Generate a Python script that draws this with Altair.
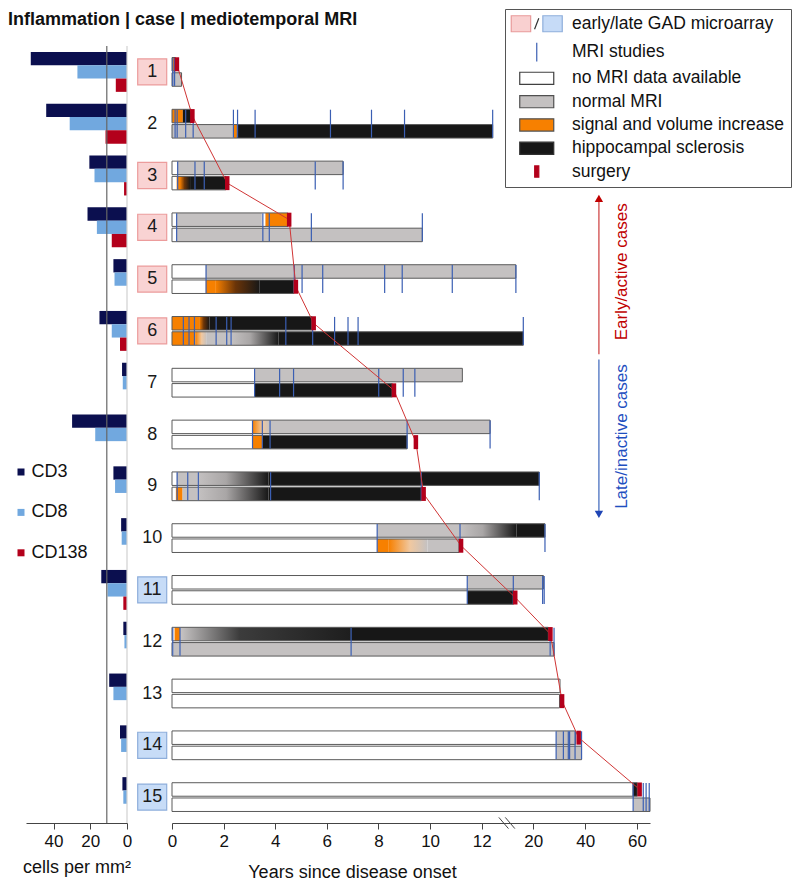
import altair as alt
import pandas as pd

# ---------------- data ----------------
case_labels = [str(i) for i in range(1, 16)]

# inflammation (cells per mm²)
cd3 = [52.4, 44.0, 20.5, 21.5, 7.4, 15.0, 2.7, 29.9, 7.4, 3.2, 14.0, 2.0, 9.7, 3.8, 2.5]
cd8 = [27.0, 31.2, 17.7, 16.4, 6.8, 8.3, 2.3, 17.3, 6.5, 2.9, 10.6, 1.4, 7.4, 3.2, 2.0]
cd138 = [6.1, 11.7, 1.6, 8.3, 0, 3.8, 0, 0, 0, 0, 2.0, 0, 0, 0, 0]
marker_names = ["CD3", "CD8", "CD138"]
reference_level = 11

early_gad = ["1", "3", "4", "5", "6"]
late_gad = ["11", "14", "15"]

# MRI course per case, upper (U) and lower (L) lane
seg_case = (["1"] * 2 + ["2"] * 5 + ["3"] * 6 + ["4"] * 6 + ["5"] * 6 + ["6"] * 8 + ["7"] * 4
            + ["8"] * 6 + ["9"] * 9 + ["10"] * 8 + ["11"] * 4 + ["12"] * 6 + ["13"] * 2
            + ["14"] * 4 + ["15"] * 4)
seg_lane = ["U", "L",
            "U", "U", "L", "L", "L",
            "U", "U", "L", "L", "L", "L",
            "U", "U", "U", "U", "L", "L",
            "U", "U", "L", "L", "L", "L",
            "U", "U", "U", "L", "L", "L", "L", "L",
            "U", "U", "L", "L",
            "U", "U", "U", "L", "L", "L",
            "U", "U", "U", "U", "L", "L", "L", "L", "L",
            "U", "U", "U", "U", "L", "L", "L", "L",
            "U", "U", "L", "L",
            "U", "U", "U", "U", "L", "L",
            "U", "L",
            "U", "U", "L", "L",
            "U", "U", "L", "L"]
seg_start = [0, 0,
             0, 0.42, 0, 2.39, 2.51,
             0, 0.2, 0, 0.18, 0.31, 0.7,
             0, 0.17, 3.48, 3.62, 0, 0.17,
             0, 1.31, 0, 1.31, 1.7, 3.4,
             0, 1.05, 1.45, 0, 0.9, 1.35, 2.3, 4.13,
             0, 3.2, 0, 3.2,
             0, 3.12, 3.8, 0, 3.12, 3.5,
             0, 0.18, 1.0, 3.74, 0, 0.15, 0.4, 1.0, 3.74,
             0, 7.95, 11.16, 17.4, 0, 7.95, 8.4, 9.9,
             0, 11.44, 0, 11.44,
             0, 0.1, 0.31, 6.9, 0, 0.05,
             0, 0,
             0, 28.8, 0, 28.8,
             0, 58.3, 0, 58.6]
seg_end = [0.13, 0.37,
           0.42, 0.74, 2.39, 2.51, 13.7,
           0.2, 6.63, 0.18, 0.31, 0.7, 2.08,
           0.17, 3.48, 3.62, 4.48, 0.17, 9.7,
           1.31, 17.3, 1.31, 1.7, 3.4, 4.72,
           1.05, 1.45, 5.42, 0.9, 1.35, 2.3, 4.13, 18.45,
           3.2, 11.25, 3.2, 8.53,
           3.12, 3.8, 13.3, 3.12, 3.5, 9.11,
           0.18, 1.0, 3.74, 22.3, 0.15, 0.4, 1.0, 3.74, 9.66,
           7.95, 11.16, 17.4, 24.5, 7.95, 8.4, 9.9, 11.12,
           11.44, 23.9, 11.44, 16.9,
           0.1, 0.31, 6.9, 25.8, 0.05, 28.0,
           30.3, 30.1,
           28.8, 36.3, 28.8, 38.6,
           58.3, 60.1, 58.6, 65]
seg_state = ["signal", "normal",
             "signal", "hs", "normal", "signal", "hs",
             "none", "normal", "none", "signal", "sig2hs", "hs",
             "none", "normal", "none", "signal", "none", "normal",
             "none", "normal", "none", "signal", "sig2hs", "hs",
             "signal", "sig2hs", "hs", "signal", "sig2norm", "normal", "norm2hs", "hs",
             "none", "normal", "none", "hs",
             "none", "sig2norm", "normal", "none", "signal", "hs",
             "none", "normal", "norm2hs", "hs", "none", "signal", "normal", "norm2hs", "hs",
             "none", "normal", "norm2hs", "hs", "none", "signal", "sig2norm", "normal",
             "none", "normal", "none", "hs",
             "none", "signal", "norm2hs_fast", "hs", "none", "normal",
             "none", "none",
             "none", "normal", "none", "normal",
             "none", "hs", "none", "normal"]

# MRI studies (years since onset)
mri_case = (["1"] * 2 + ["2"] * 11 + ["3"] * 5 + ["4"] * 5 + ["5"] * 8 + ["6"] * 12 + ["7"] * 6
            + ["8"] * 5 + ["9"] * 6 + ["10"] * 3 + ["11"] * 4 + ["12"] * 5 + ["14"] * 6 + ["15"] * 4)
mri_year = [0.03, 0.1,
            0.12, 0.2, 0.53, 0.82, 2.38, 2.54, 3.22, 6.14, 7.73, 9.01, 13.7,
            0.22, 0.89, 1.25, 5.55, 6.63,
            0.18, 3.52, 3.77, 5.4, 9.7,
            1.32, 4.74, 5.04, 5.84, 8.24, 8.92, 10.86, 17.3,
            0.44, 0.66, 0.87, 1.71, 2.12, 2.29, 4.41, 5.45, 6.3, 6.82, 7.21, 18.45,
            3.2, 4.17, 4.71, 8.01, 8.96, 9.41,
            3.12, 3.5, 3.8, 9.11, 13.3,
            0.2, 0.61, 1.02, 3.82, 9.66, 22.3,
            7.95, 11.16, 24.5,
            11.44, 16.9, 23.6, 24.2,
            0.03, 0.31, 6.94, 26.5, 28.0,
            28.8, 31.6, 33.5, 34.0, 36.1, 38.6,
            58.5, 62.4, 63.5, 64.7]

# surgery
surg_lane = ["U", "U", "L", "U", "L", "U", "L", "L", "L", "L", "L", "U", "L", "U", "U"]
surg_year = [0.19, 0.79, 2.14, 4.54, 4.8, 5.49, 8.6, 9.45, 9.75, 11.2, 17.2, 26.6, 31.1, 37.5, 61.0]

legend_items = ["early/late GAD microarray", "MRI studies", "no MRI data available",
                "normal MRI", "signal and volume increase", "hippocampal sclerosis", "surgery"]

# ---------------- styles ----------------
FONT = "Liberation Sans"
ORANGE = "#f78000"
GRAY = "#c4c1c1"
BLACK = "#171717"
RED = "#b3001b"
MRI_BLUE = "#3b5fb3"


def lg(stops):
    return alt.LinearGradient(gradient="linear", x1=0, y1=0, x2=1, y2=0,
                              stops=[alt.GradientStop(offset=o, color=c) for o, c in stops])


state_fill = {
    "none": "#ffffff",
    "normal": GRAY,
    "signal": ORANGE,
    "hs": BLACK,
    "sig2hs": lg([(0, ORANGE), (0.45, "#6a3408"), (1, BLACK)]),
    "sig2norm": lg([(0, ORANGE), (0.55, "#f0c8a0"), (1, GRAY)]),
    "norm2hs": lg([(0, GRAY), (0.4, "#a9a6a6"), (1, BLACK)]),
    "norm2hs_fast": lg([(0, "#c8c5c5"), (0.35, "#3c3c3c"), (1, "#1e1e1e")]),
}

yscale = alt.Scale(type="band", domain=case_labels, paddingInner=0, paddingOuter=0)
lane_scale = alt.Scale(domain=["U", "L"], paddingInner=0.115, paddingOuter=0.756)
marker_scale = alt.Scale(domain=marker_names, paddingInner=0, paddingOuter=0.447)

xl_scale = alt.Scale(domain=[0, 55], range=[101, 0], nice=False, zero=False)
xr_scale = alt.Scale(domain=[0, 12, 20, 65], range=[146, 455.7, 507.3, 624], nice=False, zero=False)
xm_scale = alt.Scale(type="point", domain=["lab"], range=[111.2, 141.2])

axis_common = dict(orient="bottom", grid=False, labelFontSize=17, titleFontSize=18,
                   titleFontWeight="normal", tickSize=6, labelPadding=4, labelFlush=False,
                   labelOverlap=False, domainColor="#444", tickColor="#444", labelColor="#111",
                   titleColor="#111", labelFont=FONT, titleFont=FONT, titleBaseline="alphabetic")
xl_axis = alt.Axis(values=[40, 20, 0], title="cells per mm²", titleY=49, **axis_common)
xr_axis = alt.Axis(values=[0, 2, 4, 6, 8, 10, 12, 20, 40, 60], title="Years since disease onset",
                   titleX=326, titleY=54, **axis_common)

Y = alt.Y("case:N", scale=yscale, axis=None)
one = pd.DataFrame({"k": [0]})

# ---------------- left: inflammation ----------------
infl = pd.DataFrame({
    "case": case_labels * 3,
    "marker": ["CD3"] * 15 + ["CD8"] * 15 + ["CD138"] * 15,
    "value": cd3 + cd8 + cd138,
})
cd_legend = alt.Legend(orient="none", legendX=-14, legendY=417, title=None, symbolType="square",
                       symbolSize=49, symbolStrokeWidth=0, labelFontSize=18, labelColor="#111",
                       labelFont=FONT, labelOffset=1.5, rowPadding=22.4, padding=0)
left_bars = alt.Chart(infl).mark_bar(opacity=1).encode(
    x=alt.X("value:Q", scale=xl_scale, axis=xl_axis),
    y=Y,
    yOffset=alt.YOffset("marker:N", scale=marker_scale),
    fill=alt.Fill("marker:N", scale=alt.Scale(domain=marker_names,
                                              range=["#0b0f4f", "#71a8df", RED]),
                  legend=cd_legend),
)
ref_rule = alt.Chart(one).mark_rule(color="#666", strokeWidth=1.2).encode(
    x=alt.X(datum=reference_level, type="quantitative", scale=xl_scale, axis=xl_axis))
zero_rule = alt.Chart(one).mark_rule(color="#d0d0d0", strokeWidth=1.2).encode(
    x=alt.X(datum=0, type="quantitative", scale=xl_scale, axis=xl_axis))
left = alt.layer(left_bars, ref_rule, zero_rule)

# ---------------- middle: case labels ----------------
BOX = "M-1,-0.9H1V0.9H-1Z"
lab_df = pd.DataFrame({"case": case_labels, "col": ["lab"] * 15})
XM = alt.X("col:N", scale=xm_scale, axis=None)
pink_boxes = alt.Chart(lab_df).transform_filter(
    alt.FieldOneOfPredicate(field="case", oneOf=early_gad)
).mark_point(shape=BOX, size=841, filled=True, fill="#f9d3d3", stroke="#ec9c9c",
             strokeWidth=1.2, opacity=1).encode(x=XM, y=Y)
blue_boxes = alt.Chart(lab_df).transform_filter(
    alt.FieldOneOfPredicate(field="case", oneOf=late_gad)
).mark_point(shape=BOX, size=841, filled=True, fill="#c7dcf7", stroke="#8eaedb",
             strokeWidth=1.2, opacity=1).encode(x=XM, y=Y)
label_text = alt.Chart(lab_df).mark_text(fontSize=18, font=FONT, color="#1a1a1a",
                                         align="center", baseline="middle").encode(
    x=XM, y=Y, text="case:N")
middle = alt.layer(pink_boxes, blue_boxes, label_text)

# ---------------- right: MRI timelines ----------------
seg = pd.DataFrame({"case": seg_case, "lane": seg_lane, "start": seg_start,
                    "end": seg_end, "state": seg_state})
LANE = alt.YOffset("lane:N", scale=lane_scale)
XS = alt.X("start:Q", scale=xr_scale, axis=xr_axis)

seg_layers = []
for st, fl in state_fill.items():
    seg_layers.append(
        alt.Chart(seg).transform_filter(alt.datum.state == st)
        .mark_bar(fill=fl, opacity=1)
        .encode(x=XS, x2="end:Q", y=Y, yOffset=LANE)
    )

outline = alt.Chart(seg).transform_aggregate(
    s0="min(start)", s1="max(end)", groupby=["case", "lane"]
).mark_bar(fillOpacity=0, stroke="#5a5a5a", strokeWidth=1).encode(
    x=alt.X("s0:Q", scale=xr_scale, axis=xr_axis), x2="s1:Q", y=Y, yOffset=LANE)

mri = alt.Chart(pd.DataFrame({"case": mri_case, "year": mri_year})).mark_tick(
    size=28, thickness=1.2, color=MRI_BLUE, opacity=1).encode(
    x=alt.X("year:Q", scale=xr_scale, axis=xr_axis), y=Y)

surg = pd.DataFrame({"case": case_labels, "lane": surg_lane, "year": surg_year})
surg_line = alt.Chart(surg).mark_line(color="#d03535", strokeWidth=1).encode(
    x=alt.X("year:Q", scale=xr_scale, axis=xr_axis), y=Y, yOffset=LANE)
surg_marks = alt.Chart(surg).mark_tick(size=14, thickness=4.5, color=RED, opacity=1).encode(
    x=alt.X("year:Q", scale=xr_scale, axis=xr_axis), y=Y, yOffset=LANE)


def ypos(c, bp):
    return alt.Y(datum=c, type="nominal", scale=yscale, axis=None, bandPosition=bp)


def xpos(v):
    return alt.X(datum=v, type="quantitative", scale=xr_scale, axis=xr_axis)


red_rule = alt.Chart(one).mark_rule(color="#d04a4a", strokeWidth=1.3).encode(
    x=xpos(45.3), y=ypos("3", 0.99), y2=alt.Y2(datum="6", bandPosition=0.95))
red_head = alt.Chart(one).mark_point(shape="triangle-up", size=70, filled=True,
                                     color="#c00000", opacity=1).encode(
    x=xpos(45.3), y=ypos("3", 0.94))
blue_rule = alt.Chart(one).mark_rule(color="#4a70c0", strokeWidth=1.3).encode(
    x=xpos(45.3), y=ypos("7", 0.05), y2=alt.Y2(datum="9", bandPosition=0.98))
blue_head = alt.Chart(one).mark_point(shape="triangle-down", size=70, filled=True,
                                      color="#1f45b5", opacity=1).encode(
    x=xpos(45.3), y=ypos("10", 0.04))
red_text = alt.Chart(one).mark_text(text="Early/active cases", angle=270, fontSize=17, font=FONT,
                                    color="#c00000", align="center", baseline="middle").encode(
    x=xpos(54.2), y=ypos("5", 0.36))
blue_text = alt.Chart(one).mark_text(text="Late/inactive cases", angle=270, fontSize=17, font=FONT,
                                     color="#1f4fbf", align="center", baseline="middle").encode(
    x=xpos(54.2), y=ypos("8", 0.54))
brk = alt.Chart(one).mark_point(shape="M-1,-0.7L0.2,0.7M-0.2,-0.7L1,0.7", size=256,
                                filled=False, stroke="#444", strokeWidth=1, opacity=1).encode(
    x=xpos(15.9), y=ypos("15", 1.0))

right = alt.layer(*seg_layers, outline, mri, surg_line, surg_marks,
                  red_rule, red_head, blue_rule, blue_head, red_text, blue_text, brk)

# ---------------- legend (key) ----------------
EXT = " M-5.1,0 M5.1,0"
RECT = "M-3.4,-1.22H3.4V1.22H-3.4Z"
shape_paths = [
    "M-5.1,-1.6H-1.22V1.6H-5.1Z M1.22,-1.6H5.1V1.6H1.22Z M-0.44,1.09L0.41,-1.09",
    "M0,-1.87V1.87" + EXT,
    RECT + EXT,
    RECT + EXT,
    RECT + EXT,
    RECT + EXT,
    "M-0.41,-1.12H0.41V1.12H-0.41Z" + EXT,
]
gad_fill = alt.ExprRef(expr="{gradient:'linear',x1:0,y1:0,x2:1,y2:0,stops:["
                            "{offset:0,color:'#f9d0d0'},{offset:0.5,color:'#f9d0d0'},"
                            "{offset:0.5,color:'#c6dbf7'},{offset:1,color:'#c6dbf7'}]}")
gad_stroke = alt.ExprRef(expr="{gradient:'linear',x1:0,y1:0,x2:1,y2:0,stops:["
                              "{offset:0,color:'#e89a9a'},{offset:0.43,color:'#e89a9a'},"
                              "{offset:0.43,color:'#333333'},{offset:0.57,color:'#333333'},"
                              "{offset:0.57,color:'#8eaedb'},{offset:1,color:'#8eaedb'}]}")
fill_range = [gad_fill, "transparent", "#ffffff", GRAY, ORANGE, BLACK, RED]
stroke_range = [gad_stroke, MRI_BLUE, "#404040", "#505050", "#505050", "#303030", RED]
key_legend = alt.Legend(orient="none", legendX=479, legendY=-37, title=None, labelFontSize=17.5,
                        labelFont=FONT, labelColor="#111", labelLimit=400, symbolSize=100,
                        symbolStrokeWidth=1.2, symbolOffset=17, labelOffset=26.5, rowPadding=4.3,
                        padding=6, strokeColor="#555", fillColor="white")
key_layer = alt.Chart(pd.DataFrame({"item": legend_items})).transform_filter("false").mark_point(
    filled=True, opacity=1).encode(
    fill=alt.Fill("item:N", scale=alt.Scale(domain=legend_items, range=fill_range), legend=key_legend),
    stroke=alt.Stroke("item:N", scale=alt.Scale(domain=legend_items, range=stroke_range), legend=key_legend),
    shape=alt.Shape("item:N", scale=alt.Scale(domain=legend_items, range=shape_paths), legend=key_legend),
)

chart = alt.layer(left, middle, right, key_layer).resolve_scale(
    x="independent", yOffset="independent", fill="independent",
    stroke="independent", shape="independent",
).properties(
    width=624, height=777, padding=0,
    title=alt.TitleParams("Inflammation | case | mediotemporal MRI", anchor="start", frame="group",
                          dx=-18, offset=-20.4, fontSize=18, fontWeight="bold", font=FONT,
                          color="#111"),
).configure(font=FONT, background="white").configure_view(strokeWidth=0)

chart.save("out.html", embed_options={"renderer": "svg", "actions": False})
